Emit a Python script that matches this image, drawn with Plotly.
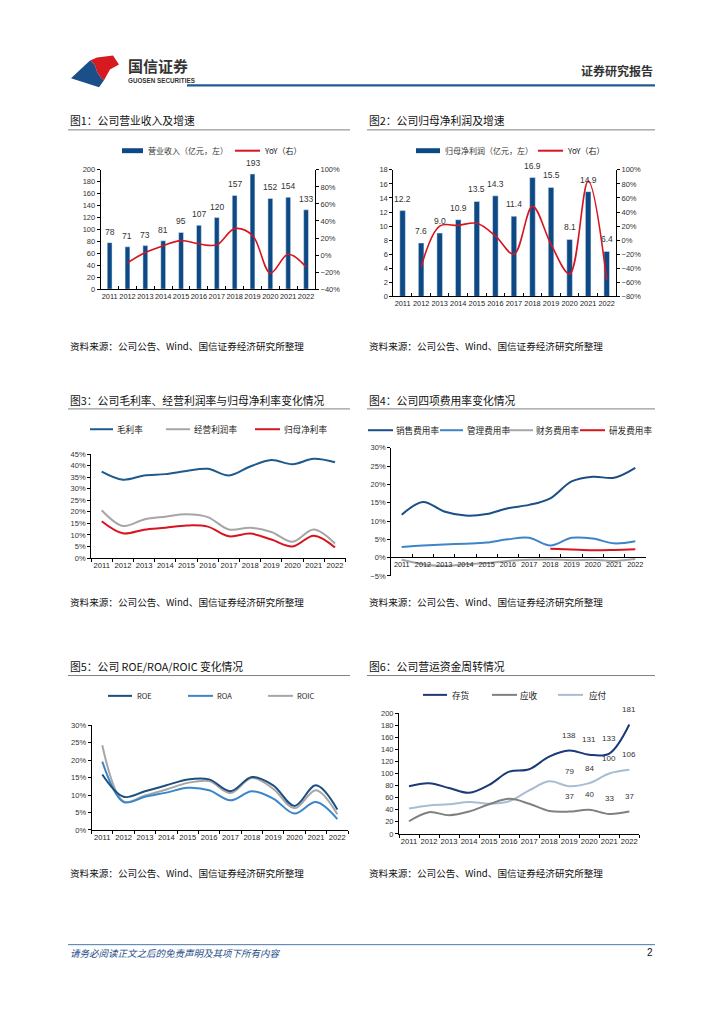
import plotly.graph_objects as go

W, H = 724, 1024
def fx(x): return x / W
def fy(y): return 1 - y / H

CJK = "Noto Sans CJK SC"
NUM = "Liberation Sans, Noto Sans CJK SC"

years = [str(y) for y in range(2011, 2023)]
revenue = [78, 71, 73, 81, 95, 107, 120, 157, 193, 152, 154, 133]
revenue_yoy = [-9, 3, 11, 17, 13, 12, 31, 23, -21, 1, -14]
profit = [12.2, 7.6, 9.0, 10.9, 13.5, 14.3, 11.4, 16.9, 15.5, 8.1, 14.9, 6.4]
profit_yoy = [-38, 20, 21, 24, 6, -20, 48, -6, -48, 84, -57]
gross_margin = [37.4, 33.9, 35.7, 36.3, 37.7, 38.6, 35.7, 39.6, 42.4, 40.6, 42.9, 41.4]
op_margin = [20.7, 13.9, 16.7, 17.9, 18.9, 17.7, 12.4, 13.1, 11.3, 7.1, 12.4, 6.3]
net_margin = [15.9, 10.7, 12.3, 13.1, 14.1, 13.6, 9.4, 10.6, 8.0, 5.0, 9.7, 4.6]
sales_exp = [11.7, 15.2, 12.6, 11.5, 11.9, 13.5, 14.4, 16.2, 20.8, 22.1, 21.8, 24.5]
admin_exp = [2.9, 3.3, 3.6, 3.8, 4.1, 5.0, 5.4, 3.3, 5.4, 5.2, 3.9, 4.5]
fin_exp = [-0.6, -1.8, -2.3, -1.8, -1.5, -0.9, -0.6, -0.5, -0.7, -0.6, -0.9, -0.4]
rd_years = years[7:]
rd_exp = [2.4, 2.2, 2.0, 2.1, 2.3]
roe = [15.9, 9.5, 11.1, 12.8, 14.5, 14.5, 11.1, 15.2, 12.8, 6.9, 12.8, 5.9]
roa = [19.6, 8.0, 9.5, 10.7, 12.1, 11.4, 8.5, 11.1, 9.0, 4.7, 8.0, 3.1]
roic = [24.3, 8.2, 9.9, 11.6, 13.5, 14.0, 10.6, 14.9, 11.8, 6.2, 11.4, 4.5]
inventory = [79, 84, 76, 68, 81, 103, 107, 128, 138, 131, 133, 181]
receivable = [21, 36, 31, 37, 49, 58, 50, 38, 37, 40, 33, 37]
payable = [42, 47, 49, 53, 50, 54, 72, 87, 79, 84, 100, 106]
label_years = years[8:]

BAR = "#0d4a85"
RED = "#d7141f"

fig = go.Figure()

# Chart 1
fig.add_trace(go.Bar(x=years, y=revenue, marker_color=BAR, width=0.27, xaxis="x", yaxis="y"))
fig.add_trace(go.Scatter(x=years[1:], y=revenue_yoy, mode="lines", line=dict(color=RED, width=1.6, shape="spline"), xaxis="x", yaxis="y2"))
# Chart 2
fig.add_trace(go.Bar(x=years, y=profit, marker_color=BAR, width=0.3, xaxis="x2", yaxis="y3"))
fig.add_trace(go.Scatter(x=years[1:], y=profit_yoy, mode="lines", line=dict(color=RED, width=1.6, shape="spline"), xaxis="x2", yaxis="y4"))
# Chart 3
for vals, col in [(gross_margin, "#1e5a8c"), (op_margin, "#a6a6a6"), (net_margin, RED)]:
    fig.add_trace(go.Scatter(x=years, y=vals, mode="lines", line=dict(color=col, width=2, shape="spline"), xaxis="x3", yaxis="y5"))
# Chart 4
for xs, vals, col in [(years, sales_exp, "#1b4f86"), (years, admin_exp, "#3d85c6"), (years, fin_exp, "#a6a6a6"), (rd_years, rd_exp, RED)]:
    fig.add_trace(go.Scatter(x=xs, y=vals, mode="lines", line=dict(color=col, width=2, shape="spline"), xaxis="x4", yaxis="y6"))
# Chart 5
for vals, col in [(roic, "#a6a6a6"), (roa, "#3a86c8"), (roe, "#1c4f80")]:
    fig.add_trace(go.Scatter(x=years, y=vals, mode="lines", line=dict(color=col, width=2, shape="spline"), xaxis="x5", yaxis="y7"))
# Chart 6
for vals, col in [(payable, "#a8bdd2"), (receivable, "#808080"), (inventory, "#1a3a78")]:
    fig.add_trace(go.Scatter(x=years, y=vals, mode="lines", line=dict(color=col, width=2, shape="spline"), xaxis="x6", yaxis="y8"))

def yax(domain, rng, dtick, anchor, suffix="", side="left", overlay=None):
    d = dict(range=rng, dtick=dtick, anchor=anchor,
             showline=True, linecolor="#000", linewidth=1, ticks="outside", ticklen=3,
             tickcolor="#000", tickfont=dict(size=7.5, color="#333", family=NUM),
             showgrid=False, zeroline=False, ticksuffix=suffix, side=side, fixedrange=True)
    if domain is not None:
        d["domain"] = [fy(domain[1]), fy(domain[0])]
    if overlay:
        d["overlaying"] = overlay
    return d

def xax(domain, anchor, ticks="outside", size=7.6):
    return dict(domain=[fx(domain[0]), fx(domain[1])], type="category", anchor=anchor,
                range=[-0.5, len(years) - 0.5], fixedrange=True,
                showline=True, linecolor="#000", linewidth=1, ticks=ticks, ticklen=3,
                tickcolor="#000", tickson="boundaries", tickangle=0,
                tickfont=dict(size=size, color="#222", family=NUM), showgrid=False, zeroline=False)

layout = dict(
    width=W, height=H, margin=dict(l=0, r=0, t=0, b=0),
    paper_bgcolor="white", plot_bgcolor="white", showlegend=False,
    xaxis=xax((100.7, 315), "y", ticks="inside", size=7.4),
    yaxis=yax((167.3, 287.7), [0, 200], 20, "x"),
    yaxis2=yax(None, [-40, 100], 20, "x", "%", "right", "y"),
    xaxis2=xax((393.3, 616), "y3", ticks="inside", size=7.4),
    yaxis3=yax((167.3, 295), [0, 18], 2, "x2"),
    yaxis4=yax(None, [-80, 100], 20, "x2", "%", "right", "y3"),
    xaxis3=xax((91.1, 345.6), "y5"),
    yaxis5=yax((454, 559), [0, 45], 5, "x3", "%"),
    xaxis4=xax((391.1, 645.9), "free", ticks="inside", size=7.3),
    yaxis6=yax((447.7, 577), [-5, 30], 5, "x4", "%"),
    xaxis5=xax((91.6, 348), "y7"),
    yaxis7=yax((727.7, 833.3), [0, 30], 5, "x5", "%"),
    xaxis6=xax((399, 639.3), "y8"),
    yaxis8=yax((715.3, 837.3), [0, 200], 20, "x6"),
)
layout["xaxis4"]["position"] = fy(558.3)
fig.update_layout(**layout)

ann = []
shapes = []

def text(x, y, s, size=9, color="#222", anchor="left", family=CJK):
    ann.append(dict(x=fx(x), y=fy(y), xref="paper", yref="paper", text=s, showarrow=False,
                    xanchor=anchor, yanchor="middle", font=dict(size=size, color=color, family=family)))

def hline(x0, x1, y, color, width=1):
    shapes.append(dict(type="line", xref="paper", yref="paper", x0=fx(x0), x1=fx(x1), y0=fy(y), y1=fy(y),
                       line=dict(color=color, width=width)))

def rect(x0, x1, y0, y1, color):
    shapes.append(dict(type="rect", xref="paper", yref="paper", x0=fx(x0), x1=fx(x1), y0=fy(y1), y1=fy(y0),
                       fillcolor=color, line=dict(width=0)))

def path(points_cmd, color):
    out = []
    for tok in points_cmd:
        if isinstance(tok, str):
            out.append(tok)
        else:
            out.append(f"{fx(tok[0]):.5f},{fy(tok[1]):.5f}")
    shapes.append(dict(type="path", xref="paper", yref="paper", path=" ".join(out), fillcolor=color,
                       line=dict(width=0)))

# Header logo
path(["M", (90, 57), "L", (97, 54), "L", (113, 52), "L", (119, 61), "L", (110, 66), "L", (104, 77),
      "C", (99, 73), (97, 69), (96, 65), "C", (95, 61), (93, 59), (90, 57), "Z"], "#d71920")
path(["M", (71, 75), "L", (90, 57), "C", (93, 59), (95, 61), (96, 65), "C", (97, 69), (99, 73), (104, 77),
      "L", (99, 84), "Z"], "#1b4f8a")
text(126, 62, "<b>国信证券</b>", size=15, color="#333")
text(126, 77, "<b>GUOSEN SECURITIES</b>", size=6.3, color="#333", family=NUM)
text(655, 67, "<b>证券研究报告</b>", size=12, color="#333", anchor="right")
hline(187, 655, 82, "#215a95", 2.2)

# Titles
for x0, x1, y, ty, s in [
    (68, 350, 117, 127, "图1：公司营业收入及增速"),
    (367, 655, 117, 127, "图2：公司归母净利润及增速"),
    (68, 350, 400, 408.5, "图3：公司毛利率、经营利润率与归母净利率变化情况"),
    (367, 655, 400, 408.5, "图4：公司四项费用率变化情况"),
    (68, 350, 668, 677.5, "图5：公司 ROE/ROA/ROIC 变化情况"),
    (367, 655, 668, 677.5, "图6：公司营运资金周转情况"),
]:
    text(x0, y, s, size=10.8, color="#111")
    hline(x0, x1, ty, "#808080", 1)

# Sources
for x, y in [(68, 345), (367, 345), (68, 603), (367, 603), (68, 877), (367, 877)]:
    text(x, y, "资料来源：公司公告、Wind、国信证券经济研究所整理", size=9.6, color="#111")

# Footer
hline(68, 655, 949, "#4a78a8", 1)
text(68, 957, "<i>请务必阅读正文之后的免责声明及其项下所有内容</i>", size=9.5, color="#1f4e8c")
text(655, 957, "2", size=10, color="#111", anchor="right", family=NUM)

# Legends
def leg_bar(x0, x1, y, label, lx):
    rect(x0, x1, y - 2.5, y + 2.5, BAR)
    text(lx, y, label, size=8, color="#333")

def leg_line(x0, x1, y, color, label, lx, size=8.6):
    hline(x0, x1, y, color, 2)
    text(lx, y, label, size=size, color="#222")

leg_bar(122, 143, 148, "营业收入（亿元，左）", 146)
leg_line(235, 260, 148, RED, "YoY（右）", 262, 8)
leg_bar(416, 440, 148, "归母净利润（亿元，左）", 443)
leg_line(538, 563, 148, RED, "YoY（右）", 565, 8)

leg_line(90, 113, 429, "#1e5a8c", "毛利率", 115)
leg_line(166, 190, 429, "#a6a6a6", "经营利润率", 192)
leg_line(255, 280, 429, RED, "归母净利率", 282)

leg_line(368, 393, 430, "#1b4f86", "销售费用率", 394)
leg_line(440, 463, 430, "#3d85c6", "管理费用率", 465)
leg_line(508, 533, 430, "#a6a6a6", "财务费用率", 534)
leg_line(580, 605, 430, RED, "研发费用率", 607)

leg_line(108, 132, 698, "#1c4f80", "ROE", 135, 7.5)
leg_line(188, 213, 698, "#3a86c8", "ROA", 215, 7.5)
leg_line(268, 293, 698, "#a6a6a6", "ROIC", 295, 7.5)

leg_line(423, 447, 697, "#1a3a78", "存货", 450)
leg_line(492, 517, 697, "#808080", "应收", 518)
leg_line(558, 583, 697, "#a8bdd2", "应付", 587)

# Data labels (category index positions)
for i, v in enumerate(revenue):
    ann.append(dict(x=i, y=v, xref="x", yref="y", text=str(v), showarrow=False, yanchor="middle", yshift=11,
                    font=dict(size=8.5, color="#333", family=NUM)))
for i, v in enumerate(profit):
    ann.append(dict(x=i, y=v, xref="x2", yref="y3", text=f"{v:.1f}", showarrow=False, yanchor="middle", yshift=12,
                    font=dict(size=8.5, color="#333", family=NUM)))
for series in (inventory, payable, receivable):
    for yr, v in zip(label_years, series[8:]):
        ann.append(dict(x=years.index(yr), y=v, xref="x6", yref="y8", text=str(v), showarrow=False,
                        yanchor="middle", yshift=15, font=dict(size=8, color="#333", family=NUM)))

fig.update_layout(annotations=ann, shapes=shapes)
fig.write_html("out.html", config={"displayModeBar": False, "staticPlot": True},
               post_script="document.body.style.margin='0';document.body.style.overflow='hidden';")
